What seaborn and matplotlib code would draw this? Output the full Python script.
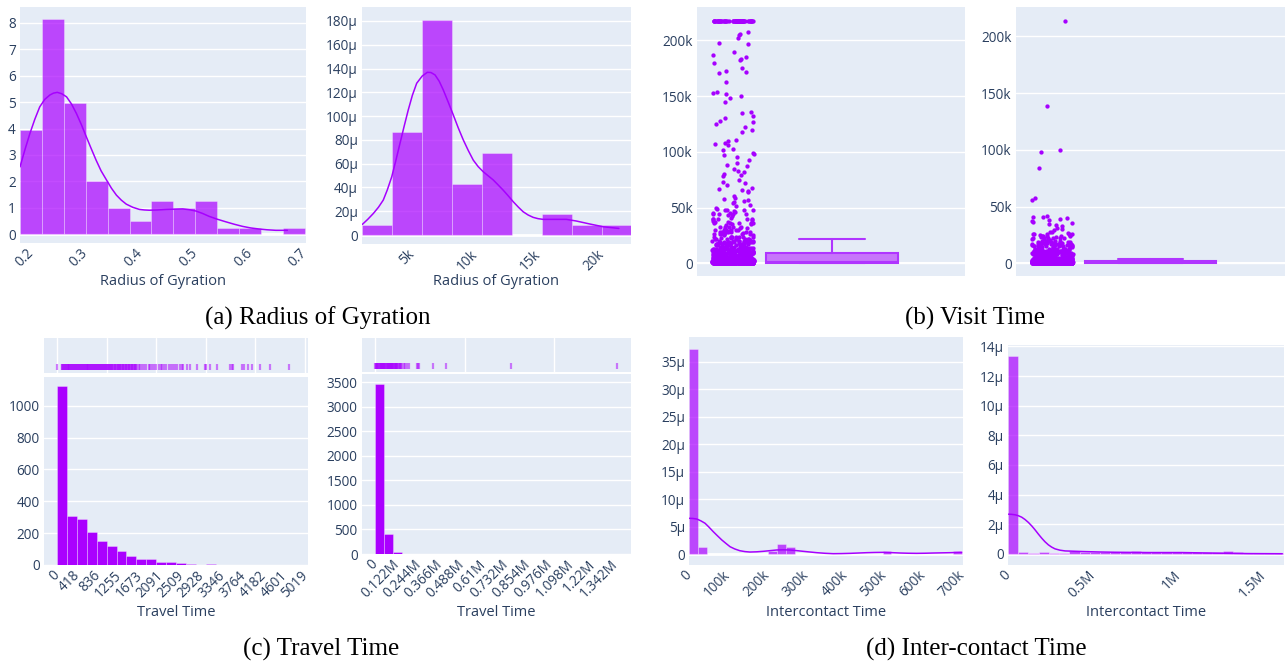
import numpy as np
import pandas as pd
import matplotlib
matplotlib.use("Agg")
import matplotlib.pyplot as plt
import seaborn as sns

# ---------------- data ----------------
# (a) Radius of Gyration - left (density histogram + kde)
rg1_edges = [0.18, 0.22, 0.26, 0.30, 0.34, 0.38, 0.42, 0.46, 0.50, 0.54, 0.58, 0.62, 0.66, 0.70]
rg1_density = [3.95, 8.15, 4.95, 2.0, 1.0, 0.5, 1.25, 1.0, 1.25, 0.25, 0.25, 0.0, 0.25]
rg1_kde_x = [0.18, 0.189, 0.198, 0.207, 0.216, 0.225, 0.2345, 0.241, 0.248, 0.256, 0.265, 0.274,
             0.283, 0.292, 0.301, 0.310, 0.319, 0.328, 0.338, 0.347, 0.356, 0.365, 0.374, 0.386,
             0.398, 0.407, 0.416, 0.431, 0.447, 0.462, 0.477, 0.489, 0.501, 0.513, 0.525, 0.540,
             0.556, 0.571, 0.586, 0.601, 0.616, 0.631, 0.647, 0.658, 0.668]
rg1_kde_y = [2.55, 3.2, 3.81, 4.35, 4.82, 5.1, 5.27, 5.34, 5.37, 5.32, 5.2, 4.93,
             4.57, 4.15, 3.69, 3.24, 2.8, 2.4, 2.05, 1.74, 1.48, 1.29, 1.14, 1.02,
             0.94, 0.92, 0.91, 0.92, 0.94, 0.95, 0.96, 0.93, 0.88, 0.79, 0.68, 0.57,
             0.47, 0.38, 0.30, 0.24, 0.2, 0.17, 0.15, 0.15, 0.15]
rg1_xticks = [0.2, 0.3, 0.4, 0.5, 0.6, 0.7]
rg1_xlabels = ["0.2", "0.3", "0.4", "0.5", "0.6", "0.7"]
rg1_yticks = [0, 1, 2, 3, 4, 5, 6, 7, 8]
rg1_ylabels = ["0", "1", "2", "3", "4", "5", "6", "7", "8"]

# (a) Radius of Gyration - right (x in thousands, density in micro)
rg2_edges = [1.05, 3.42, 5.79, 8.16, 10.53, 12.9, 15.27, 17.64, 20.01, 22.38]
rg2_density = [8.4, 86.6, 181, 43, 69, 0, 17.4, 8.4, 8.4]
rg2_kde_x = [1.08, 1.5, 1.95, 2.35, 2.73, 3.05, 3.4, 3.72, 4.05, 4.38, 4.7, 5.03, 5.37, 5.8,
             6.21, 6.5, 6.82, 7.15, 7.47, 7.86, 8.26, 8.65, 9.05, 9.45, 9.84, 10.23, 10.63,
             11.02, 11.42, 11.8, 12.2, 12.6, 13.0, 13.4, 13.78, 14.17, 14.57, 14.96, 15.36,
             16.15, 17.2, 17.99, 19.05, 20.1, 21.34]
rg2_kde_y = [9, 13.2, 18.2, 23.4, 29.4, 38, 49, 62.5, 77, 91.5, 105, 117.5, 127.6, 133.6,
             136.8, 136.6, 134.6, 129.3, 122, 111.8, 101, 90.2, 80, 71, 63, 57.5, 53.2,
             49.8, 46.3, 42.2, 37.8, 33, 28, 23.5, 19.6, 16.9, 14.9, 13.8, 13.2,
             13.2, 13.2, 11.8, 9.3, 7, 5.6]
rg2_xticks = [5, 10, 15, 20]
rg2_xlabels = ["5k", "10k", "15k", "20k"]
rg2_yticks = [0, 20, 40, 60, 80, 100, 120, 140, 160, 180]
rg2_ylabels = ["0", "20μ", "40μ", "60μ", "80μ", "100μ", "120μ", "140μ", "160μ", "180μ"]

# (b) Visit Time (values in thousands)
vt1_dense_levels = [0, 0.5, 1, 1.5, 2, 2.5, 3, 4, 5, 6, 7, 8, 9, 10, 11, 12, 13, 14, 15, 16,
                    17, 18, 19, 20, 22, 24, 26, 28, 30, 33, 36, 40, 44, 48, 217]
vt1_dense_counts = [120, 80, 60, 50, 40, 36, 32, 28, 24, 22, 20, 18, 16, 16, 14, 14, 12, 12,
                    12, 10, 10, 8, 8, 8, 6, 6, 5, 5, 5, 4, 4, 3, 3, 3, 60]
vt1_sparse = [208, 206, 205, 202, 198, 197, 190, 187, 185, 183, 182, 180, 175, 173, 172, 171, 163,
              154, 153, 152, 150, 148, 145, 136, 135, 132, 130, 128, 127, 125, 122, 120, 118, 111,
              110, 108, 107, 106, 103, 102, 99, 98, 97, 95, 93, 90, 88, 87, 85, 83, 82, 80, 79, 78,
              75, 73, 72, 70, 68, 67, 66, 65, 64, 60, 59, 58, 57, 56, 55, 54, 52, 51, 50, 49, 48,
              47, 46, 45, 45, 44, 43, 42, 41, 40, 40, 39, 38, 37, 37, 36, 35, 35, 34, 33, 32, 32,
              31, 30, 30, 29, 28, 28, 27, 26, 26, 25, 25, 24, 24, 23, 23, 22, 22, 21, 21, 20.5]
vt1_box = dict(whislo=0, q1=0.5, med=1.4, q3=9.5, whishi=22)

vt2_dense_levels = [0, 0.5, 1, 1.5, 2, 3, 4, 5, 6, 7, 8, 9, 10, 11, 12, 13, 14, 15, 16, 17, 18,
                    19, 20, 22, 24, 26]
vt2_dense_counts = [140, 90, 70, 55, 45, 36, 30, 26, 22, 18, 16, 14, 12, 11, 10, 9, 8, 8, 7,
                    7, 6, 5, 5, 4, 3, 3]
vt2_sparse = [214, 139, 100, 98, 84, 58, 56, 42, 41, 40.5, 40, 39, 38, 37, 36, 35.5, 35, 34, 33,
              31, 30, 29, 28, 27.5, 27, 26, 26, 25, 25, 24.5, 24, 23.5, 23, 22.5, 22, 21.5, 21, 20.5]
vt2_box = dict(whislo=0, q1=0.7, med=1.2, q3=1.9, whishi=3.5)
vt_yticks = [0, 50, 100, 150, 200]
vt_ylabels = ["0", "50k", "100k", "150k", "200k"]

# (c) Travel Time - left
tt1_edges = [0, 200, 400, 600, 800, 1000, 1200, 1400, 1600, 1800, 2000, 2200, 2400, 2600,
             2800, 3000, 3200, 3400, 3600, 3800, 4000, 4200, 4400, 4600, 4800, 5000]
tt1_counts = [1125, 310, 290, 205, 148, 120, 90, 55, 35, 38, 20, 20, 15, 8, 2, 6, 3, 3, 0, 3, 0, 0, 2, 0, 0]
tt1_rug = [10, 92, 105, 120, 135, 150, 162, 175, 188, 200, 212, 225, 238, 250, 265, 280, 292, 305,
           318, 330, 342, 355, 368, 380, 395, 410, 422, 435, 448, 460, 475, 490, 502, 515, 528,
           540, 555, 570, 582, 595, 608, 620, 635, 650, 662, 675, 688, 700, 715, 730, 742, 755,
           768, 780, 795, 810, 822, 835, 848, 860, 875, 890, 902, 915, 928, 940, 955, 970, 982,
           995, 1008, 1020, 1035, 1050, 1062, 1075, 1088, 1100, 1115, 1130, 1145, 1160, 1175,
           1190, 1205, 1220, 1235, 1250, 1265, 1280, 1295, 1310, 1325, 1340, 1355, 1370, 1385,
           1400, 1415, 1430, 1445, 1460, 1475, 1490, 1505, 1520, 1535, 1550, 1565, 1580, 1595,
           1610, 1650, 1680, 1720, 1760, 1790, 1850, 1880, 1920, 1960, 2000, 2050, 2090, 2120,
           2160, 2200, 2250, 2290, 2330, 2380, 2420, 2470, 2520, 2550, 2614, 2680, 2815, 2980,
           3010, 3085, 3220, 3490, 3520, 3555, 3725, 3760, 3860, 3930, 4100, 4290, 4670]
tt1_xticks = [0, 418, 836, 1255, 1673, 2091, 2509, 2928, 3346, 3764, 4182, 4601, 5019]
tt1_xlabels = ["0", "418", "836", "1255", "1673", "2091", "2509", "2928", "3346", "3764", "4182", "4601", "5019"]
tt1_yticks = [0, 200, 400, 600, 800, 1000]
tt1_ylabels = ["0", "200", "400", "600", "800", "1000"]
tt1_rug_grid = [0, 1000, 2000, 3000, 4000, 5000]

# (c) Travel Time - right (x in millions)
tt2_edges = [0, 0.05, 0.10, 0.15, 0.20]
tt2_counts = [3475, 400, 45, 8]
tt2_rug = [0.001, 0.004, 0.007, 0.010, 0.013, 0.016, 0.019, 0.022, 0.025, 0.028, 0.031, 0.034,
           0.037, 0.040, 0.043, 0.046, 0.049, 0.052, 0.055, 0.058, 0.061, 0.064, 0.067, 0.070,
           0.073, 0.076, 0.079, 0.082, 0.085, 0.088, 0.091, 0.094, 0.097, 0.100, 0.103, 0.106,
           0.109, 0.112, 0.115, 0.118, 0.121, 0.125, 0.129, 0.133, 0.137, 0.142, 0.147, 0.153,
           0.160, 0.168, 0.178, 0.190, 0.233, 0.240, 0.246, 0.326, 0.397, 0.761, 1.351]
tt2_xticks = [0, 0.122, 0.244, 0.366, 0.488, 0.61, 0.732, 0.854, 0.976, 1.098, 1.22, 1.342]
tt2_xlabels = ["0", "0.122M", "0.244M", "0.366M", "0.488M", "0.61M", "0.732M", "0.854M",
               "0.976M", "1.098M", "1.22M", "1.342M"]
tt2_yticks = [0, 500, 1000, 1500, 2000, 2500, 3000, 3500]
tt2_ylabels = ["0", "500", "1000", "1500", "2000", "2500", "3000", "3500"]
tt2_rug_grid = [0, 0.5, 1.0]

# (d) Inter-contact Time - left (x in thousands, density in micro)
ic1_edges = [0, 22.5, 45, 67.5, 90, 112.5, 135, 157.5, 180, 202.5, 225, 247.5, 270, 292.5, 315,
             337.5, 360, 382.5, 405, 427.5, 450, 472.5, 495, 517.5, 540, 562.5, 585, 607.5, 630,
             652.5, 675, 697.5]
ic1_density = [37.3, 1.2, 0, 0, 0, 0, 0, 0, 0, 0.6, 1.8, 1.2, 0, 0, 0, 0, 0, 0, 0, 0, 0, 0,
               0.6, 0, 0, 0, 0, 0, 0, 0, 0.6]
ic1_kde_x = [0.8, 10, 20, 30, 41, 51, 62, 73, 84, 95, 105, 117, 130, 143, 156, 173, 190, 207,
             224, 241, 258, 275, 292, 310, 327, 348, 369, 390, 412, 433, 454, 475, 497, 518,
             540, 561, 582, 603, 625, 646, 667, 697]
ic1_kde_y = [6.5, 6.47, 6.37, 6.05, 5.6, 4.9, 4.07, 3.3, 2.55, 1.9, 1.33, 0.92, 0.6, 0.44,
             0.36, 0.4, 0.49, 0.61, 0.73, 0.76, 0.73, 0.62, 0.49, 0.36, 0.24, 0.13, 0.06, 0.08,
             0.12, 0.18, 0.24, 0.28, 0.3, 0.25, 0.18, 0.14, 0.12, 0.14, 0.18, 0.21, 0.24, 0.3]
ic1_xticks = [0, 100, 200, 300, 400, 500, 600, 700]
ic1_xlabels = ["0", "100k", "200k", "300k", "400k", "500k", "600k", "700k"]
ic1_yticks = [0, 5, 10, 15, 20, 25, 30, 35]
ic1_ylabels = ["0", "5μ", "10μ", "15μ", "20μ", "25μ", "30μ", "35μ"]

# (d) Inter-contact Time - right (x in millions, density in micro)
ic2_edges = [0, 0.06, 0.12, 0.18, 0.24, 0.30, 0.36, 0.42, 0.48, 0.54, 0.60, 0.66, 0.72, 0.78,
             0.84, 0.90, 0.96, 1.02, 1.08, 1.14, 1.20, 1.26, 1.32, 1.38, 1.44, 1.50, 1.56, 1.62, 1.68]
ic2_density = [13.35, 0.15, 0.05, 0.12, 0.08, 0.05, 0.22, 0.15, 0.15, 0.15, 0.12, 0.12, 0.22,
               0.15, 0.12, 0.12, 0.12, 0.15, 0.12, 0.1, 0.1, 0.18, 0.1, 0.08, 0.05, 0.05, 0.03, 0.08]
ic2_kde_x = [0.002, 0.02, 0.041, 0.06, 0.08, 0.1, 0.12, 0.14, 0.159, 0.178, 0.198, 0.217, 0.237,
             0.256, 0.276, 0.305, 0.335, 0.384, 0.433, 0.53, 0.63, 0.825, 1.02, 1.22, 1.41, 1.61]
ic2_kde_y = [2.68, 2.67, 2.64, 2.58, 2.48, 2.32, 2.12, 1.88, 1.62, 1.34, 1.06, 0.82, 0.61,
             0.46, 0.34, 0.25, 0.2, 0.18, 0.16, 0.13, 0.11, 0.09, 0.09, 0.05, 0.02, 0.01]
ic2_xticks = [0, 0.5, 1.0, 1.5]
ic2_xlabels = ["0", "0.5M", "1M", "1.5M"]
ic2_yticks = [0, 2, 4, 6, 8, 10, 12, 14]
ic2_ylabels = ["0", "2μ", "4μ", "6μ", "8μ", "10μ", "12μ", "14μ"]

# ---------------- style ----------------
sns.set_theme(style="white")
plt.rcParams['font.family'] = ['Open Sans', 'DejaVu Sans']
np.random.seed(3)

W, H = 1285, 664
BG = "#E5ECF6"
TXT = "#2a3f5f"
PUR = "#AA00FF"
LINE = "#A600FF"
TICK_FS = 9.8
LAB_FS = 10.5
CAP_FS = 18

fig = plt.figure(figsize=(W / 100, H / 100), dpi=100)


def add_ax(x0, y0, x1, y1):
    ax = fig.add_axes([x0 / W, 1 - y1 / H, (x1 - x0) / W, (y1 - y0) / H])
    ax.set_facecolor(BG)
    for s in ax.spines.values():
        s.set_visible(False)
    ax.tick_params(length=0, labelsize=TICK_FS, labelcolor=TXT, pad=3)
    ax.set_axisbelow(True)
    return ax


def set_y(ax, ticks, labels, zero=True):
    ax.set_yticks(ticks)
    ax.set_yticklabels(labels)
    ax.yaxis.grid(True, color="white", lw=1)
    ax.xaxis.grid(False)
    if zero:
        ax.axhline(0, color="white", lw=2, zorder=0.6)


def set_x(ax, ticks, labels):
    ax.set_xticks(ticks)
    ax.set_xticklabels(labels, rotation=45, ha="right", va="center", rotation_mode="anchor")
    ax.tick_params(axis="x", pad=6)


def hist(ax, edges, heights, alpha):
    e = [float(v) for v in edges]
    centers = [(a + b) / 2 for a, b in zip(e[:-1], e[1:])]
    df = pd.DataFrame({"v": centers, "w": [float(h) for h in heights]})
    sns.histplot(data=df, x="v", weights="w", bins=e, ax=ax, color=PUR, alpha=alpha,
                 edgecolor=(1, 1, 1, 0.35), linewidth=0.6, stat="count", zorder=2)
    ax.set_xlabel("")
    ax.set_ylabel("")


def kde(ax, xs, ys):
    sns.lineplot(x=xs, y=ys, ax=ax, color=LINE, lw=1.1, zorder=3)


def ftext(x, y, s, size, family=None, color=TXT):
    kw = dict(ha="center", va="center", fontsize=size, color=color)
    if family:
        kw["family"] = family
    fig.text(x / W, 1 - y / H, s, **kw)


# ---- (a) left ----
ax = add_ax(20, 7, 306, 243)
hist(ax, rg1_edges, rg1_density, 0.7)
kde(ax, rg1_kde_x, rg1_kde_y)
ax.set_xlim(0.18, 0.702)
ax.set_ylim(-0.33, 8.6)
set_y(ax, rg1_yticks, rg1_ylabels)
set_x(ax, rg1_xticks, rg1_xlabels)
ftext(163, 282, "Radius of Gyration", LAB_FS)

# ---- (a) right ----
ax = add_ax(362, 7, 631, 244)
hist(ax, rg2_edges, rg2_density, 0.7)
kde(ax, rg2_kde_x, rg2_kde_y)
ax.set_xlim(1.05, 22.3)
ax.set_ylim(-7.5, 191.7)
set_y(ax, rg2_yticks, rg2_ylabels)
set_x(ax, rg2_xticks, rg2_xlabels)
ftext(496, 282, "Radius of Gyration", LAB_FS)


# ---- (b) ----
def visit(ax, levels, counts, sparse, box):
    vals = np.concatenate([np.repeat(levels, counts), np.asarray(sparse, dtype=float)])
    sns.stripplot(y=vals, ax=ax, jitter=0.21, color=LINE, size=3.1, linewidth=0, zorder=3)
    ax.bxp([dict(box, fliers=[])], positions=[1], widths=1.33, capwidths=0.66,
           showfliers=False, patch_artist=True,
           boxprops=dict(facecolor=(0.667, 0.0, 1.0, 0.5), edgecolor="#B035FF", lw=1.5),
           whiskerprops=dict(color="#B035FF", lw=1.5),
           capprops=dict(color="#B035FF", lw=1.5),
           medianprops=dict(color="#B035FF", lw=1.5), zorder=3)
    ax.set_xticks([])
    ax.set_xlabel("")
    ax.set_ylabel("")


ax = add_ax(697, 7, 965, 276)
visit(ax, vt1_dense_levels, vt1_dense_counts, vt1_sparse, vt1_box)
ax.set_xlim(-0.364, 2.343)
ax.set_ylim(-11.4, 230)
set_y(ax, vt_yticks, vt_ylabels, zero=False)
ax.axhline(0, color="white", lw=1.5, zorder=0.6)

ax = add_ax(1016, 7, 1285, 276)
visit(ax, vt2_dense_levels, vt2_dense_counts, vt2_sparse, vt2_box)
ax.set_xlim(-0.365, 2.366)
ax.set_ylim(-11.2, 226)
set_y(ax, vt_yticks, vt_ylabels, zero=False)
ax.axhline(0, color="white", lw=1.5, zorder=0.6)


# ---- (c) ----
def rug(ax, vals, grid, xlim):
    sns.scatterplot(x=vals, y=[0.0] * len(vals), ax=ax, marker="|", s=18, linewidth=1.6,
                    color=PUR, alpha=0.5, zorder=3, legend=False)
    ax.set_xlim(*xlim)
    ax.set_ylim(-0.17, 0.83)
    ax.set_xticks(grid)
    ax.set_xticklabels([])
    ax.set_yticks([])
    ax.xaxis.grid(True, color="white", lw=1)
    ax.set_xlabel("")
    ax.set_ylabel("")


ax = add_ax(44, 338, 308, 373)
rug(ax, tt1_rug, tt1_rug_grid, (-262, 5060))
ax = add_ax(44, 377, 308, 565)
hist(ax, tt1_edges, tt1_counts, 1.0)
ax.set_xlim(-262, 5060)
ax.set_ylim(0, 1180)
set_y(ax, tt1_yticks, tt1_ylabels, zero=False)
set_x(ax, tt1_xticks, tt1_xlabels)
ftext(176, 612, "Travel Time", LAB_FS)

ax = add_ax(362, 338, 631, 372)
rug(ax, tt2_rug, tt2_rug_grid, (-0.073, 1.43))
ax = add_ax(362, 374, 631, 554)
hist(ax, tt2_edges, tt2_counts, 1.0)
ax.set_xlim(-0.073, 1.43)
ax.set_ylim(0, 3671)
set_y(ax, tt2_yticks, tt2_ylabels, zero=False)
set_x(ax, tt2_xticks, tt2_xlabels)
ftext(496, 612, "Travel Time", LAB_FS)

# ---- (d) ----
ax = add_ax(689, 337, 963, 565)
hist(ax, ic1_edges, ic1_density, 0.7)
kde(ax, ic1_kde_x, ic1_kde_y)
ax.set_xlim(0, 700.8)
ax.set_ylim(-2, 39.5)
set_y(ax, ic1_yticks, ic1_ylabels)
set_x(ax, ic1_xticks, ic1_xlabels)
ftext(826, 612, "Intercontact Time", LAB_FS)

ax = add_ax(1008, 345, 1284, 565)
hist(ax, ic2_edges, ic2_density, 0.7)
kde(ax, ic2_kde_x, ic2_kde_y)
ax.set_xlim(0, 1.62)
ax.set_ylim(-0.75, 14.1)
set_y(ax, ic2_yticks, ic2_ylabels)
set_x(ax, ic2_xticks, ic2_xlabels)
ftext(1146, 612, "Intercontact Time", LAB_FS)

# ---- captions ----
SERIF = ["Liberation Serif", "DejaVu Serif"]
ftext(318, 318, "(a) Radius of Gyration", CAP_FS, SERIF, "black")
ftext(975, 318, "(b) Visit Time", CAP_FS, SERIF, "black")
ftext(321, 649, "(c) Travel Time", CAP_FS, SERIF, "black")
ftext(976, 649, "(d) Inter-contact Time", CAP_FS, SERIF, "black")

fig.savefig("out.png", dpi=100, facecolor="white")
